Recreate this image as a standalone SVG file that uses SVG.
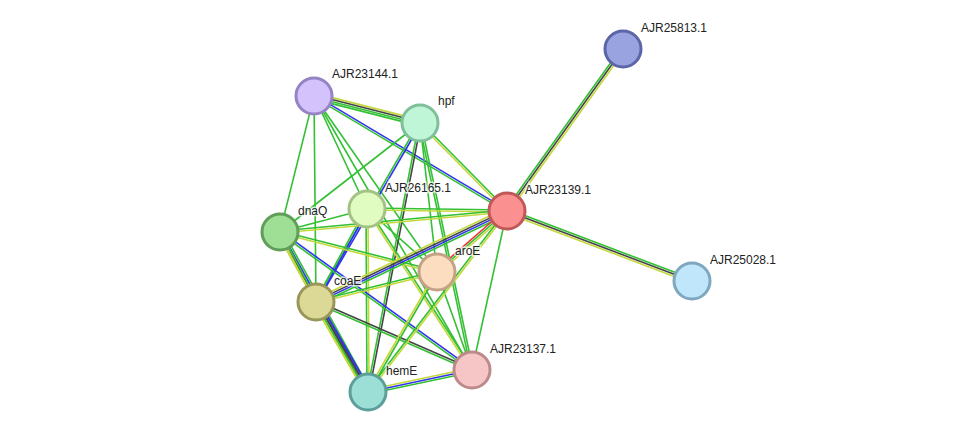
<svg xmlns="http://www.w3.org/2000/svg" width="976" height="438" viewBox="0 0 976 438">
<style>
line{stroke-width:1.6;fill:none}
.g{stroke:#33c033}.y{stroke:#c4d83c}.k{stroke:#444}.b{stroke:#3333ee}.r{stroke:#ee3333}
circle{stroke-width:3}
text{font-family:"Liberation Sans",Arial,sans-serif;font-size:12px;fill:#222;paint-order:stroke;stroke:#fff;stroke-width:3px;stroke-opacity:0.7}
</style>
<rect width="976" height="438" fill="#fff"/>
<g id="edges">
<!-- R-A -->
<line class="g" x1="507" y1="211" x2="623" y2="49" transform="translate(-1.6,-1.2)"/>
<line class="k" x1="507" y1="211" x2="623" y2="49"/>
<line class="y" x1="507" y1="211" x2="623" y2="49" transform="translate(1.6,1.2)"/>
<!-- R-F -->
<line class="g" x1="507" y1="211" x2="692" y2="281" transform="translate(0.7,-1.9)"/>
<line class="k" x1="507" y1="211" x2="692" y2="281"/>
<line class="y" x1="507" y1="211" x2="692" y2="281" transform="translate(-0.7,1.9)"/>
<!-- B-H -->
<line class="y" x1="314" y1="96" x2="420" y2="123" transform="translate(0.75,-2.9)"/>
<line class="k" x1="314" y1="96" x2="420" y2="123" transform="translate(0.25,-1)"/>
<line class="g" x1="314" y1="96" x2="420" y2="123" transform="translate(-0.25,1)"/>
<line class="g" x1="314" y1="96" x2="420" y2="123" transform="translate(-0.75,2.9)"/>
<!-- B-R -->
<line class="b" x1="314" y1="96" x2="507" y2="211" transform="translate(0.5,-0.9)"/>
<line class="g" x1="314" y1="96" x2="507" y2="211" transform="translate(-0.5,0.9)"/>
<!-- B singles -->
<line class="g" x1="314" y1="96" x2="367" y2="209"/>
<line class="g" x1="314" y1="96" x2="280" y2="232"/>
<line class="g" x1="314" y1="96" x2="316" y2="302"/>
<line class="g" x1="314" y1="96" x2="437" y2="272"/>
<line class="g" x1="314" y1="96" x2="472" y2="370"/>
<!-- H-R -->
<line class="g" x1="420" y1="123" x2="507" y2="211" transform="translate(0.7,-0.7)"/>
<line class="y" x1="420" y1="123" x2="507" y2="211" transform="translate(-0.7,0.7)"/>
<!-- H-C -->
<line class="b" x1="420" y1="123" x2="316" y2="302" transform="translate(0.87,0.5)"/>
<line class="g" x1="420" y1="123" x2="316" y2="302" transform="translate(-0.87,-0.5)"/>
<line class="g" x1="420" y1="123" x2="280" y2="232"/>
<!-- H-M -->
<line class="k" x1="420" y1="123" x2="368" y2="392" transform="translate(1,0.2)"/>
<line class="g" x1="420" y1="123" x2="368" y2="392" transform="translate(-1,-0.2)"/>
<line class="g" x1="420" y1="123" x2="437" y2="272"/>
<line class="g" x1="420" y1="123" x2="472" y2="370" transform="translate(1,-0.2)"/>
<line class="g" x1="420" y1="123" x2="472" y2="370" transform="translate(-1,0.2)"/>
<!-- K edges -->
<line class="g" x1="367" y1="209" x2="507" y2="211" transform="translate(0,-1)"/>
<line class="y" x1="367" y1="209" x2="507" y2="211" transform="translate(0,1)"/>
<line class="g" x1="367" y1="209" x2="280" y2="232"/>
<line class="b" x1="367" y1="209" x2="316" y2="302" transform="translate(0.9,0.5)"/>
<line class="g" x1="367" y1="209" x2="316" y2="302" transform="translate(-0.9,-0.5)"/>
<line class="g" x1="367" y1="209" x2="368" y2="392" transform="translate(-1,0)"/>
<line class="y" x1="367" y1="209" x2="368" y2="392" transform="translate(1,0)"/>
<line class="g" x1="367" y1="209" x2="472" y2="370" transform="translate(0.8,-0.55)"/>
<line class="y" x1="367" y1="209" x2="472" y2="370" transform="translate(-0.8,0.55)"/>
<line class="g" x1="367" y1="209" x2="437" y2="272"/>
<!-- D edges -->
<line class="g" x1="280" y1="232" x2="507" y2="211" transform="translate(-0.1,-1)"/>
<line class="y" x1="280" y1="232" x2="507" y2="211" transform="translate(0.1,1)"/>
<line class="g" x1="280" y1="232" x2="437" y2="272" transform="translate(0.25,-1)"/>
<line class="y" x1="280" y1="232" x2="437" y2="272" transform="translate(-0.25,1)"/>
<line class="g" x1="280" y1="232" x2="368" y2="392" transform="translate(2.6,-1.4)"/>
<line class="b" x1="280" y1="232" x2="368" y2="392" transform="translate(0.9,-0.5)"/>
<line class="k" x1="280" y1="232" x2="368" y2="392" transform="translate(-0.9,0.5)"/>
<line class="y" x1="280" y1="232" x2="368" y2="392" transform="translate(-2.6,1.4)"/>
<line class="g" x1="280" y1="232" x2="316" y2="302" transform="translate(0.9,-0.5)"/>
<line class="y" x1="280" y1="232" x2="316" y2="302" transform="translate(-0.9,0.5)"/>
<line class="b" x1="280" y1="232" x2="472" y2="370" transform="translate(0.6,-0.8)"/>
<line class="g" x1="280" y1="232" x2="472" y2="370" transform="translate(-0.6,0.8)"/>
<!-- C edges -->
<line class="y" x1="316" y1="302" x2="507" y2="211" transform="translate(-1.3,-2.7)"/>
<line class="k" x1="316" y1="302" x2="507" y2="211" transform="translate(-0.43,-0.9)"/>
<line class="b" x1="316" y1="302" x2="507" y2="211" transform="translate(0.43,0.9)"/>
<line class="g" x1="316" y1="302" x2="507" y2="211" transform="translate(1.3,2.7)"/>
<line class="g" x1="316" y1="302" x2="437" y2="272" transform="translate(-0.24,-1)"/>
<line class="y" x1="316" y1="302" x2="437" y2="272" transform="translate(0.24,1)"/>
<line class="b" x1="316" y1="302" x2="368" y2="392" transform="translate(2.6,-1.5)"/>
<line class="k" x1="316" y1="302" x2="368" y2="392" transform="translate(0.87,-0.5)"/>
<line class="g" x1="316" y1="302" x2="368" y2="392" transform="translate(-0.87,0.5)"/>
<line class="y" x1="316" y1="302" x2="368" y2="392" transform="translate(-2.6,1.5)"/>
<line class="k" x1="316" y1="302" x2="472" y2="370" transform="translate(0.4,-0.9)"/>
<line class="g" x1="316" y1="302" x2="472" y2="370" transform="translate(-0.4,0.9)"/>
<!-- E edges -->
<line class="r" x1="437" y1="272" x2="507" y2="211" transform="translate(-1.3,-1.5)"/>
<line class="g" x1="437" y1="272" x2="507" y2="211"/>
<line class="y" x1="437" y1="272" x2="507" y2="211" transform="translate(1.3,1.5)"/>
<line class="g" x1="437" y1="272" x2="368" y2="392" transform="translate(0.87,0.5)"/>
<line class="y" x1="437" y1="272" x2="368" y2="392" transform="translate(-0.87,-0.5)"/>
<line class="g" x1="437" y1="272" x2="472" y2="370"/>
<!-- R-M, R-J -->
<line class="y" x1="507" y1="211" x2="368" y2="392" transform="translate(0.8,0.6)"/>
<line class="g" x1="507" y1="211" x2="368" y2="392" transform="translate(-0.8,-0.6)"/>
<line class="g" x1="507" y1="211" x2="472" y2="370"/>
<!-- M-J -->
<line class="y" x1="368" y1="392" x2="472" y2="370" transform="translate(-0.4,-2)"/>
<line class="b" x1="368" y1="392" x2="472" y2="370"/>
<line class="g" x1="368" y1="392" x2="472" y2="370" transform="translate(0.4,2)"/>
</g>
<g id="n-AJR25813"><circle cx="623" cy="49" r="18" fill="#99a3e0" stroke="#5a66a8"/><text x="641" y="32">AJR25813.1</text></g>
<g id="n-AJR23144"><circle cx="314" cy="96" r="18" fill="#d3c2fb" stroke="#9583c5"/><text x="332" y="78">AJR23144.1</text></g>
<g id="n-hpf"><circle cx="420" cy="123" r="18" fill="#c0f6d8" stroke="#7fbf99"/><text x="438" y="105">hpf</text></g>
<g id="n-AJR26165"><circle cx="367" cy="209" r="18" fill="#e0fcc0" stroke="#a5c286"/><text x="385" y="192">AJR26165.1</text></g>
<g id="n-AJR23139"><circle cx="507" cy="211" r="18" fill="#fa9090" stroke="#c05858"/><text x="525" y="194">AJR23139.1</text></g>
<g id="n-dnaQ"><circle cx="280" cy="232" r="18" fill="#9fde95" stroke="#5e9e58"/><text x="298" y="215">dnaQ</text></g>
<g id="n-aroE"><circle cx="437" cy="272" r="18" fill="#fdddc0" stroke="#c4a286"/><text x="455" y="255">aroE</text></g>
<g id="n-coaE"><circle cx="316" cy="302" r="18" fill="#dcd896" stroke="#99965a"/><text x="334" y="285">coaE</text></g>
<g id="n-AJR25028"><circle cx="692" cy="281" r="18" fill="#bfe6fa" stroke="#7fa8c0"/><text x="710" y="264">AJR25028.1</text></g>
<g id="n-AJR23137"><circle cx="472" cy="370" r="18" fill="#f6c6c6" stroke="#bd8a8a"/><text x="490" y="353">AJR23137.1</text></g>
<g id="n-hemE"><circle cx="368" cy="392" r="18" fill="#9cdfd6" stroke="#5c9e98"/><text x="386" y="375">hemE</text></g>
</svg>
